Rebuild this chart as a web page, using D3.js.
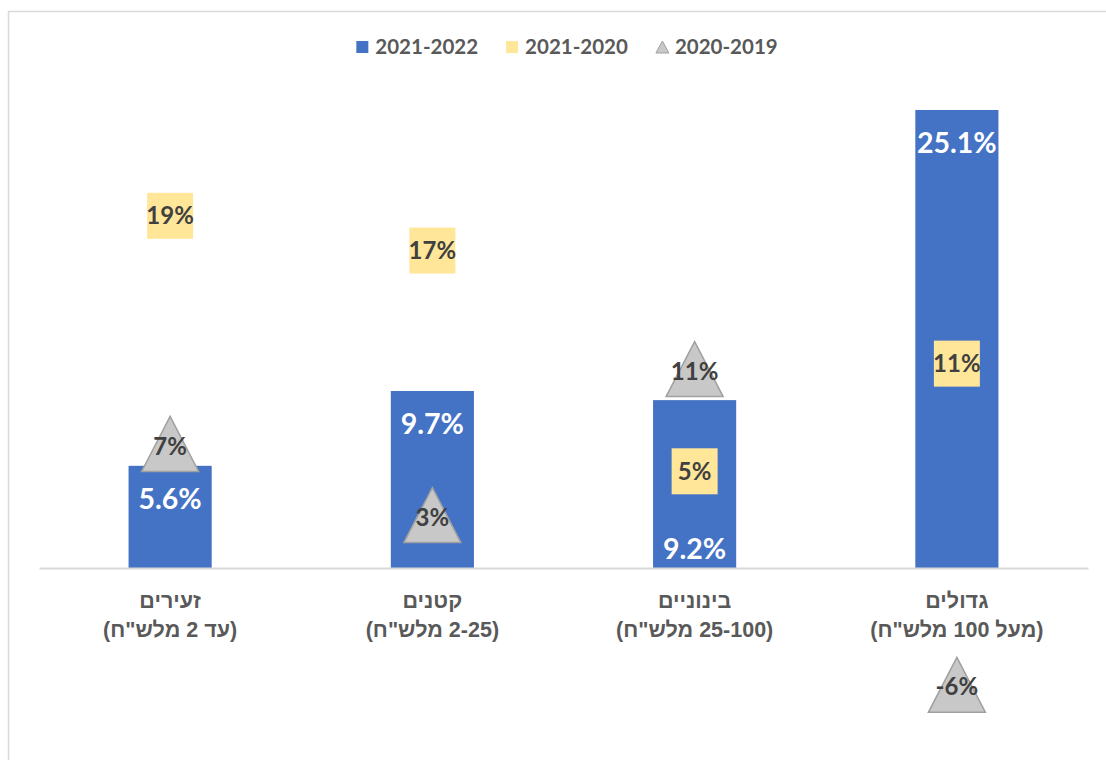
<!DOCTYPE html>
<html>
<head>
<meta charset="utf-8">
<script src="https://cdn.jsdelivr.net/npm/d3@7"></script>
<style>
  html, body { margin: 0; padding: 0; background: #fff; }
  svg { display: block; }
</style>
</head>
<body>
<svg id="chart" width="1106" height="760"></svg>
<script>
// ---- data ----
const categoryNames = ["זעירים", "קטנים", "בינוניים", "גדולים"];
const categoryRanges = ["(עד 2 מלש\"ח)", "(2-25 מלש\"ח)", "(25-100 מלש\"ח)", "(מעל 100 מלש\"ח)"];
const seriesNames = ["2021-2022", "2021-2020", "2020-2019"];
const bars2122 = [5.6, 9.7, 9.2, 25.1];
const squares2120 = [19.3, 17.4, 5.3, 11.2];
const triangles2019 = [6.8, 2.9, 10.9, -6.4];
const barLabelPlacement = ["end", "end", "base", "end"];

// ---- setup ----
const W = 1106, H = 760;
const svg = d3.select("#chart");
const locale = d3.formatLocale({decimal: ".", thousands: ",", grouping: [3], currency: ["", ""], minus: "-"});
const fmtBar = v => locale.format(".1f")(v) + "%";
const fmtMark = v => locale.format(".0f")(v) + "%";

const colors = {bar: "#4472C4", square: "#FFE699", tri: "#C8C8C8", triStroke: "#A0A0A0", text: "#404040", cat: "#595959"};
const labelFont = "Lato, 'Open Sans', sans-serif";

// chart border
svg.append("rect")
  .attr("x", 8.5).attr("y", 11.5)
  .attr("width", W + 20).attr("height", H + 20)
  .attr("fill", "none").attr("stroke", "#d9d9d9").attr("stroke-width", 1.5);

const x = d3.scaleBand().domain(d3.range(categoryNames.length)).range([39, 1088]).paddingInner(0.683).paddingOuter(0.3415);
const y = d3.scaleLinear().domain([0, 25.1]).range([568, 110]);

// bars
svg.append("g").selectAll("rect").data(bars2122).join("rect")
  .attr("x", (d, i) => x(i))
  .attr("y", d => y(d))
  .attr("width", x.bandwidth())
  .attr("height", d => y(0) - y(d))
  .attr("fill", colors.bar);

// axis
const axis = d3.axisBottom(x).tickSize(0).tickFormat("");
const gAxis = svg.append("g").attr("transform", `translate(0,${y(0)})`).call(axis);
gAxis.select(".domain").attr("stroke", "#d9d9d9").attr("stroke-width", 2);

// category labels (two lines)
const catG = svg.append("g");
categoryNames.forEach((name, i) => {
  const cx = x(i) + x.bandwidth() / 2;
  const t = catG.append("text")
    .attr("x", cx).attr("text-anchor", "middle").attr("direction", "rtl")
    .attr("font-family", "'Liberation Sans', Arial, sans-serif").attr("font-weight", "bold")
    .attr("font-size", 21.5).attr("fill", colors.cat);
  t.append("tspan").attr("x", cx).attr("y", 608).text(name);
  t.append("tspan").attr("x", cx).attr("y", 637).text(categoryRanges[i]);
});

// bar labels
svg.append("g").selectAll("text").data(bars2122).join("text")
  .attr("x", (d, i) => x(i) + x.bandwidth() / 2)
  .attr("y", (d, i) => barLabelPlacement[i] === "end" ? y(d) + 33 : y(0) - 19)
  .attr("dy", "0.36em")
  .attr("text-anchor", "middle")
  .attr("font-family", labelFont).attr("font-weight", "bold").attr("font-size", 28.5)
  .attr("fill", "#ffffff")
  .text(d => fmtBar(d));

// squares
const sq = 46;
svg.append("g").selectAll("rect").data(squares2120).join("rect")
  .attr("x", (d, i) => x(i) + x.bandwidth() / 2 - sq / 2)
  .attr("y", d => y(d) - sq / 2)
  .attr("width", sq).attr("height", sq)
  .attr("fill", colors.square);

// triangles
const tw = 57, th = 55;
const triPath = (cx, cy, w, h) => `M${cx},${cy - h / 2}L${cx + w / 2},${cy + h / 2}L${cx - w / 2},${cy + h / 2}Z`;
svg.append("g").selectAll("path").data(triangles2019).join("path")
  .attr("d", (d, i) => triPath(x(i) + x.bandwidth() / 2, y(d), tw, th))
  .attr("fill", colors.tri).attr("stroke", colors.triStroke).attr("stroke-width", 1.5);

// marker labels
const markLabel = (data, dyOff) => svg.append("g").selectAll("text").data(data).join("text")
  .attr("x", (d, i) => x(i) + x.bandwidth() / 2)
  .attr("y", d => y(d) + dyOff)
  .attr("dy", "0.36em")
  .attr("text-anchor", "middle")
  .attr("font-family", labelFont).attr("font-weight", "bold").attr("font-size", 24)
  .attr("fill", colors.text)
  .text(d => fmtMark(d));
markLabel(squares2120, 0);
markLabel(triangles2019, 2);

// legend
const legend = svg.append("g");
let cur = 0;
seriesNames.forEach((s, i) => {
  const g = legend.append("g");
  if (i === 0) g.append("rect").attr("x", 0).attr("y", -6).attr("width", 12).attr("height", 12).attr("fill", colors.bar);
  if (i === 1) g.append("rect").attr("x", 0).attr("y", -6).attr("width", 12).attr("height", 12).attr("fill", colors.square);
  if (i === 2) g.append("path").attr("d", triPath(6.5, 0, 13, 12)).attr("fill", colors.tri).attr("stroke", colors.triStroke).attr("stroke-width", 1);
  const t = g.append("text").attr("x", 19).attr("y", 0).attr("dy", "0.36em")
    .attr("font-family", labelFont).attr("font-weight", "bold").attr("font-size", 20.5)
    .attr("fill", colors.cat).text(s);
  const w = 19 + t.node().getComputedTextLength();
  g.attr("transform", `translate(${cur},47)`);
  cur += w + 28;
});
const totalW = cur - 28;
legend.attr("transform", `translate(${567 - totalW / 2},0)`);
</script>
</body>
</html>
